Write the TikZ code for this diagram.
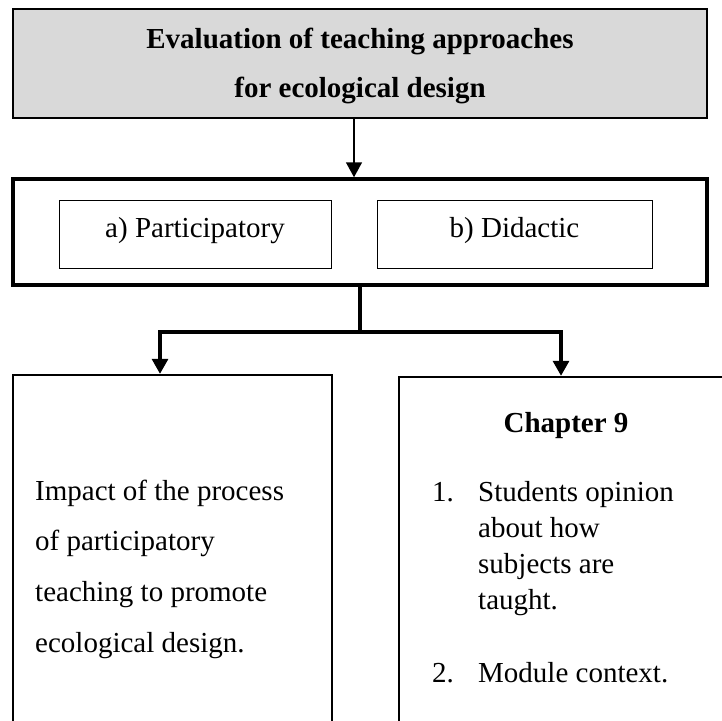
\documentclass[tikz,border=0pt]{standalone}
\usepackage{fontspec}
\setmainfont{Liberation Serif}
\usetikzlibrary{arrows.meta}
\definecolor{titlegray}{HTML}{D9D9D9}

\begin{document}
\begin{tikzpicture}[x=1pt, y=-1pt,
    box/.style={draw, rectangle, inner sep=0pt},
    txt/.style={font=\fontsize{29}{35}\selectfont, inner sep=0pt},
    flecha/.style={-{Triangle[width=16pt,length=15pt]}}]
    % Marco de la figura
    \useasboundingbox (0,0) rectangle (722,720);
    \clip (0,0) rectangle (722,720);

    % Caja del titulo
    \node[box, fill=titlegray, line width=2.2pt, minimum width=694pt, minimum height=109pt] (title) at (360,63.5) {};
    \node[txt, anchor=base] (title1) at (360,48) {\bfseries Evaluation of teaching approaches};
    \node[txt, anchor=base] (title2) at (360,97) {\bfseries for ecological design};

    % Enfoques de ensenanza
    \node[box, line width=3.5pt, minimum width=694pt, minimum height=106pt] (frame) at (360,232) {};
    \node[box, txt, line width=1pt, minimum width=272pt, minimum height=68pt, text height=12pt, text depth=6pt] (partic) at (195,234) {a) Participatory};
    \node[box, txt, line width=1pt, minimum width=275pt, minimum height=68pt, text height=12pt, text depth=6pt] (didac) at (514.5,234) {b) Didactic};

    % Cajas de resultados (cortadas por el borde)
    \node[box, line width=2.4pt, minimum width=319pt, minimum height=365pt] (resA) at (172.5,557.5) {};
    \node[box, line width=2.4pt, minimum width=346pt, minimum height=363pt] (resB) at (572,558.5) {};

    % Texto izquierdo
    \foreach \linea [count=\i from 0] in {Impact of the process, of participatory, teaching to promote, ecological design.}
        \node[txt, anchor=base west] (impacto\i) at (35, 500+50.7*\i) {\linea};

    % Texto derecho
    \node[txt, anchor=base] (cap) at (566,432) {\bfseries Chapter 9};
    \node[txt, anchor=base west] (num1) at (432,501) {1.};
    \foreach \linea [count=\i from 0] in {Students opinion, about how, subjects are, taught.}
        \node[txt, anchor=base west] (opinion\i) at (478, 501+36.3*\i) {\linea};
    \node[txt, anchor=base west] (num2) at (432,682) {2.};
    \node[txt, anchor=base west] (modulo) at (478,682) {Module context.};

    % Conectores
    \draw[flecha, line width=1.6pt] (title.south -| 354,0) -- (frame.north -| 354,0);
    \coordinate (split) at (frame.south |- 0,332);
    \draw[line width=3.2pt] (frame.south) -- (split);
    \draw[flecha, line width=3.2pt] (split) -| (resA.north -| 160,0);
    \draw[flecha, line width=3.2pt] (split) -| (resB.north -| 561,0);
\end{tikzpicture}
\end{document}
